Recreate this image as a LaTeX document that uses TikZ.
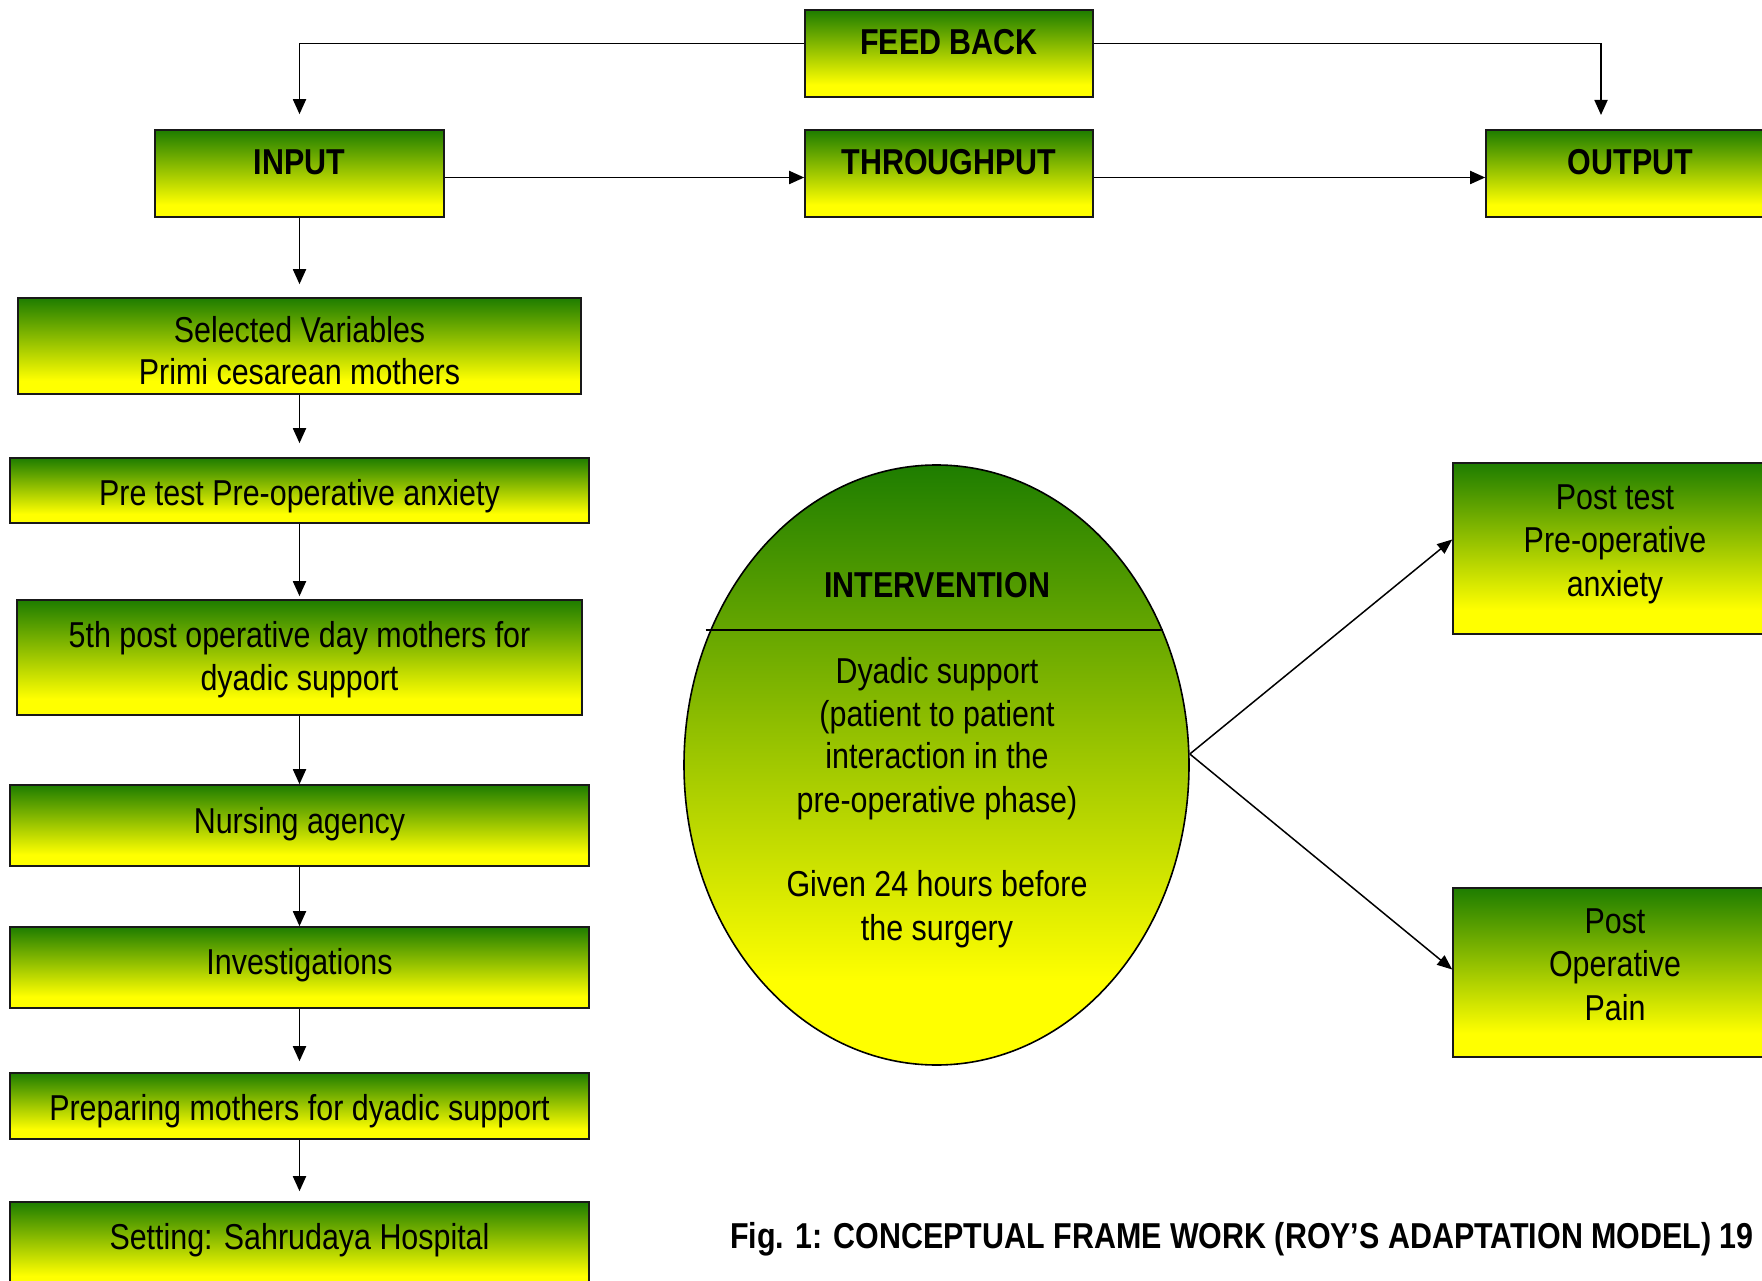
\documentclass[tikz,border=0pt]{standalone}
\usepackage{fontspec}
\setmainfont{Liberation Sans}[FakeStretch=0.845]
\usetikzlibrary{arrows.meta,shapes.geometric,calc}
\definecolor{gr}{RGB}{30,125,0}
\definecolor{yl}{RGB}{255,255,0}
\pgfdeclareverticalshading{gy}{100bp}{color(0bp)=(yl); color(32bp)=(yl); color(75bp)=(gr); color(100bp)=(gr)}
\tikzset{
  box/.style={draw=black!90, line width=1.6pt, shading=gy, shade, inner sep=0pt},
  txt/.style={anchor=base, inner sep=0pt, font=\fontsize{36}{42}\selectfont},
  ttl/.style={anchor=base, inner sep=0pt, font=\fontsize{36}{42}\selectfont\bfseries},
  arr/.style={-{Triangle[length=15pt,width=13pt]}, line width=1.8pt},
  arrt/.style={-{Triangle[length=15pt,width=12pt]}, line width=1.5pt},
}
\begin{document}
\begin{tikzpicture}[x=1pt,y=-1pt]
\useasboundingbox (0,0) rectangle (1762,1281);
\clip (0,0) rectangle (1762,1281);
\fill[white] (0,0) rectangle (1762,1281);

% top row
\node[box, minimum width=288pt, minimum height=87pt] (fb) at (949,53.5) {};
\node[box, minimum width=289pt, minimum height=87pt] (in) at (299.5,173.5) {};
\node[box, minimum width=288pt, minimum height=87pt] (th) at (949,173.5) {};
\node[box, minimum width=300pt, minimum height=87pt] (out) at (1636,173.5) {};
\node[ttl] (fbt) at (949,55) {FEED BACK};
\node[ttl] (int) at (299.5,175) {INPUT};
\node[ttl] (tht) at (949,175) {THROUGHPUT};
\node[ttl] (outt) at (1630.5,175) {OUTPUT};

% left column
\node[box, minimum width=563pt, minimum height=96pt] (sv) at (299.5,346) {};
\node[box, minimum width=579pt, minimum height=65pt] (pt) at (299.5,490.5) {};
\node[box, minimum width=565pt, minimum height=115pt] (fifth) at (299.5,657.5) {};
\node[box, minimum width=579pt, minimum height=81pt] (na) at (299.5,825.5) {};
\node[box, minimum width=579pt, minimum height=81pt] (inv) at (299.5,967.5) {};
\node[box, minimum width=579pt, minimum height=66pt] (prep) at (299.5,1106) {};
\node[box, minimum width=579pt, minimum height=86pt] (set) at (299.5,1245) {};

\node[txt] (sv1) at (299.5,343) {Selected Variables};
\node[txt] (sv2) at (299.5,384) {Primi cesarean mothers};
\node[txt] (pt1) at (299.5,505) {Pre test Pre-operative anxiety};
\node[txt] (f1) at (299.5,647) {5th post operative day mothers for};
\node[txt] (f2) at (299.5,690) {dyadic support};
\node[txt] (na1) at (299.5,833) {Nursing agency};
\node[txt] (inv1) at (299.5,974) {Investigations};
\node[txt] (pr1) at (299.5,1120) {Preparing mothers for dyadic support};
\node[txt] (se1) at (299.5,1249) {Setting: Sahrudaya Hospital};

% ellipse
\node[draw=black, line width=1.6pt, ellipse, shading=gy, shade, minimum width=505pt, minimum height=600pt, inner sep=0pt] (ell) at (936.5,765) {};
\draw[line width=1.6pt] ($(ell.center)+(-231,-135)$) -- ($(ell.center)+(226,-135)$);
\node[ttl] (et) at (937,597) {INTERVENTION};
\node[txt] (e1) at (937,683) {Dyadic support};
\node[txt] (e2) at (937,726) {(patient to patient};
\node[txt] (e3) at (937,768) {interaction in the};
\node[txt] (e4) at (937,812) {pre-operative phase)};
\node[txt] (e5) at (937,896) {Given 24 hours before};
\node[txt] (e6) at (937,940) {the surgery};

% right boxes
\node[box, minimum width=340pt, minimum height=171pt] (ptb) at (1623,548.5) {};
\node[box, minimum width=340pt, minimum height=169pt] (pob) at (1623,972.5) {};
\node[txt] (pb1) at (1615,509) {Post test};
\node[txt] (pb2) at (1615,552) {Pre-operative};
\node[txt] (pb3) at (1615,596) {anxiety};
\node[txt] (po1) at (1615,933) {Post};
\node[txt] (po2) at (1615,976) {Operative};
\node[txt] (po3) at (1615,1020) {Pain};

% caption
\node[anchor=base west, inner sep=0pt, font=\fontsize{36}{42}\selectfont\bfseries] (cap) at (730,1248) {Fig. 1: CONCEPTUAL FRAME WORK (ROY’S ADAPTATION MODEL) 19};

% connectors
\coordinate (fbR) at (1601,115);
\draw[arr] ($(fb.west)+(0,-10)$) -| ($(in.north)+(0,-15)$);
\draw[arr] ($(fb.east)+(0,-10)$) -| (fbR);
\draw[arr] ($(in.east)+(0,4)$) -- ($(th.west)+(0,4)$);
\draw[arr] ($(th.east)+(0,4)$) -- ($(out.west)+(0,4)$);
\draw[arr] (in.south) -- ($(sv.north)+(0,-13)$);
\draw[arr] (sv.south) -- ($(pt.north)+(0,-14)$);
\draw[arr] (pt.south) -- ($(fifth.north)+(0,-3)$);
\draw[arr] (fifth.south) -- (na.north);
\draw[arr] (na.south) -- (inv.north);
\draw[arr] (inv.south) -- ($(prep.north)+(0,-11)$);
\draw[arr] (prep.south) -- ($(set.north)+(0,-10)$);
\draw[arrt] ($(ell.east)+(0,-11)$) -- ($(ptb.west)+(0,-9)$);
\draw[arrt] ($(ell.east)+(0,-11)$) -- ($(pob.west)+(0,-3)$);
\end{tikzpicture}
\end{document}
